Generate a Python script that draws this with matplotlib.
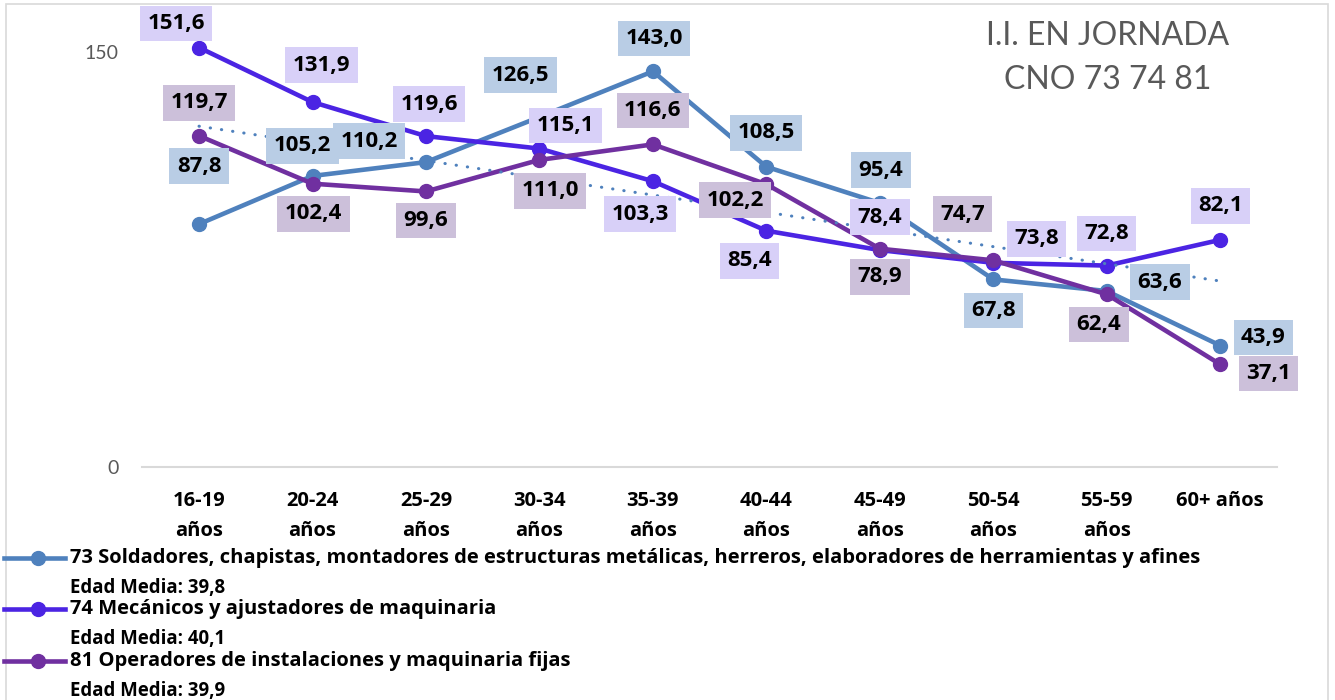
import numpy as np
import matplotlib
matplotlib.use("Agg")
import matplotlib.pyplot as plt
from matplotlib.lines import Line2D
from matplotlib.patches import Rectangle

plt.rcParams['font.family'] = ['Open Sans', 'DejaVu Sans']

categories = ["16-19\naños", "20-24\naños", "25-29\naños", "30-34\naños", "35-39\naños",
              "40-44\naños", "45-49\naños", "50-54\naños", "55-59\naños", "60+ años"]
s73 = [87.8, 105.2, 110.2, 126.5, 143.0, 108.5, 95.4, 67.8, 63.6, 43.9]
s74 = [151.6, 131.9, 119.6, 115.1, 103.3, 85.4, 78.4, 73.8, 72.8, 82.1]
s81 = [119.7, 102.4, 99.6, 111.0, 116.6, 102.2, 78.9, 74.7, 62.4, 37.1]
names = ["73 Soldadores, chapistas, montadores de estructuras metálicas, herreros, elaboradores de herramientas y afines",
         "74 Mecánicos y ajustadores de maquinaria",
         "81 Operadores de instalaciones y maquinaria fijas"]
edad_media = ["39,8", "40,1", "39,9"]
title = "I.I. EN JORNADA\nCNO 73 74 81"

# styles
line_colors = ["#4f81bd", "#4b24e3", "#7030a0"]
box_colors = ["#b9cde5", "#d8d0f8", "#ccc0da"]
# label offsets in pixels (dx, dy up)
off73 = [(0, 58), (-10, 30), (-57, 21), (-19, 42), (1, 33), (0, 34), (1, 33), (0, -31), (53, 9), (43, 8)]
off74 = [(-23, 24), (9, 37), (3, 32), (26, 23), (-13, -33), (-17, -30), (0, 33), (43, 24), (0, 32), (0, 34)]
off81 = [(0, 33), (1, -30), (0, -29), (11, -31), (0, 34), (-31, -16), (0, -28), (-31, 46), (-8, -30), (48, -9)]

W, H = 1335, 700
fig = plt.figure(figsize=(W / 100, H / 100), dpi=100)
fig.patch.set_facecolor("white")
fig.add_artist(Rectangle((6 / W, -0.05), (1328 - 6) / W, 1.05 - 4 / H, transform=fig.transFigure,
                         fill=False, edgecolor="#d9d9d9", linewidth=1.2))

y0_px, ytop_val = 467, 160
px_per_unit = 415 / 150
top_px = y0_px - ytop_val * px_per_unit
ax = fig.add_axes([142.3 / W, 1 - y0_px / H, (1277 - 142.3) / W, (y0_px - top_px) / H])
x = np.arange(len(categories))
ax.set_xlim(-0.5, len(categories) - 0.5)
ax.set_ylim(0, ytop_val)

for s in ["top", "right", "left"]:
    ax.spines[s].set_visible(False)
ax.spines["bottom"].set_color("#d9d9d9")
ax.spines["bottom"].set_linewidth(1.5)
ax.set_yticks([0, 150])
ax.set_yticklabels(["0", "150"], color="#595959", fontsize=14, family=["Lato", "DejaVu Sans"])
ax.set_xticks(x)
ax.set_xticklabels(categories, fontsize=14.5, fontweight="bold", linespacing=1.72)
ax.tick_params(axis="y", length=0, pad=17)
ax.tick_params(axis="x", length=0, pad=17)

series = [s73, s74, s81]
offsets = [off73, off74, off81]
for k, (vals, col) in enumerate(zip(series, line_colors)):
    ax.plot(x, vals, color=col, lw=3.3, marker="o", markersize=10, zorder=3 + k, clip_on=False)

# linear trend of series 73
coef = np.polyfit(x, s73, 1)
ax.plot(x, np.polyval(coef, x), color=line_colors[0], lw=2.2, linestyle=(0, (0.1, 3.6)),
        dash_capstyle="round", zorder=6, clip_on=False)

for k, (vals, offs) in enumerate(zip(series, offsets)):
    for i, v in enumerate(vals):
        ax.annotate(f"{v:.1f}".replace(".", ","), (x[i], v), xytext=offs[i], textcoords="offset pixels",
                    ha="center", va="center", fontsize=16, fontweight="bold", color="black",
                    bbox=dict(boxstyle="square,pad=0.33", fc=box_colors[k], ec="none"),
                    zorder=10 + k, annotation_clip=False)

fig.text(1108 / W, 1 - 58 / H, title, ha="center", va="center", fontsize=23, color="#595959",
         linespacing=1.6, family=["Lato", "DejaVu Sans"])

# legend
rows = [558, 609, 661]
for k in range(3):
    yy = 1 - rows[k] / H
    fig.add_artist(Line2D([4 / W, 65 / W], [yy, yy], transform=fig.transFigure, color=line_colors[k],
                          lw=3.3))
    fig.add_artist(Line2D([38 / W], [yy], transform=fig.transFigure, color=line_colors[k],
                          marker="o", markersize=10))
    fig.text(70 / W, yy, names[k], ha="left", va="center", fontsize=14.5, fontweight="bold")
    fig.text(70 / W, yy - 30 / H, "Edad Media: " + edad_media[k], ha="left", va="center",
             fontsize=13.4, fontweight="bold")

fig.savefig("out.png", dpi=100)
